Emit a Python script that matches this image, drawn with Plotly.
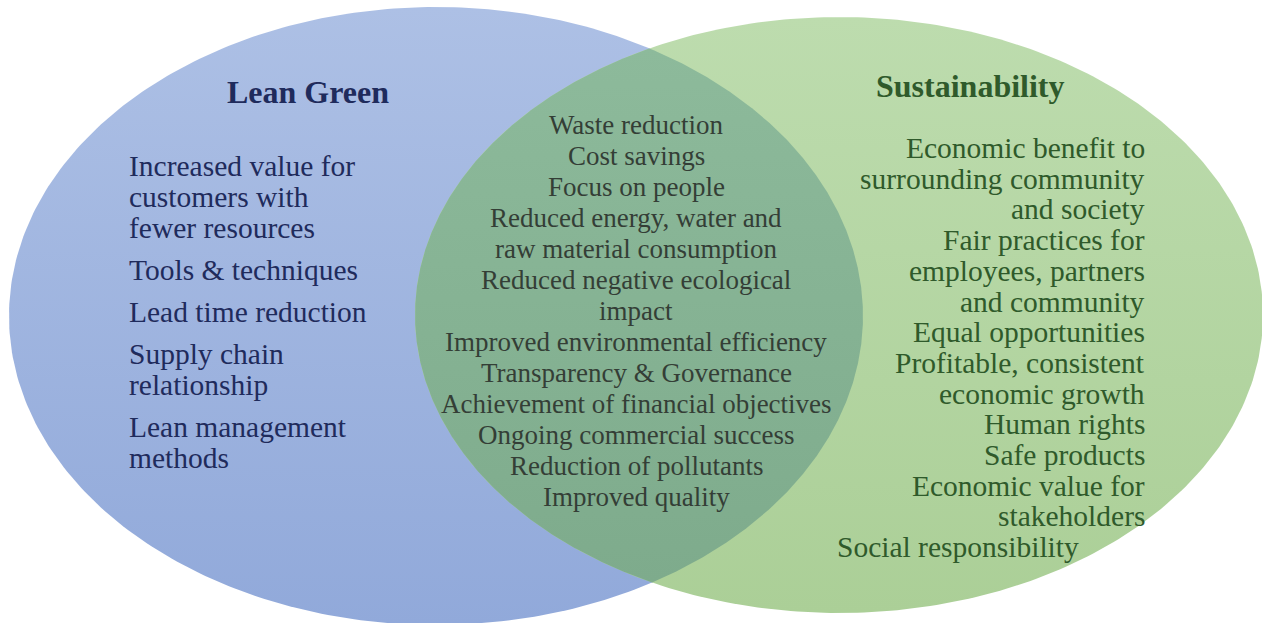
import numpy as np
import plotly.graph_objects as go

# ---------------- data ----------------
left_title = "Lean Green"
left_items = [
    ["Increased value for", "customers with", "fewer resources"],
    ["Tools & techniques"],
    ["Lead time reduction"],
    ["Supply chain", "relationship"],
    ["Lean management", "methods"],
]
center_lines = [
    "Waste reduction",
    "Cost savings",
    "Focus on people",
    "Reduced energy, water and",
    "raw material consumption",
    "Reduced negative ecological",
    "impact",
    "Improved environmental efficiency",
    "Transparency & Governance",
    "Achievement of financial objectives",
    "Ongoing commercial success",
    "Reduction of pollutants",
    "Improved quality",
]
right_title = "Sustainability"
right_lines = [
    "Economic benefit to",
    "surrounding community",
    "and society",
    "Fair practices for",
    "employees, partners",
    "and community",
    "Equal opportunities",
    "Profitable, consistent",
    "economic growth",
    "Human rights",
    "Safe products",
    "Economic value for",
    "stakeholders",
]
right_last = "Social responsibility"

# ---------------- geometry (pixel space) ----------------
W, H = 1262, 623
L_CX, L_CY, L_A, L_B = 436, 316, 427, 309
R_CX, R_CY, R_A, R_B = 839, 315, 424, 298

FONT = "Liberation Serif, Times New Roman, serif"
BLUE_TXT = "#1f2b5c"
MID_TXT = "#343e36"
GREEN_TXT = "#2f5a2b"


def ellipse(cx, cy, a, b, t0=0, t1=2 * np.pi, n=400):
    t = np.linspace(t0, t1, n)
    return cx + a * np.cos(t), cy + b * np.sin(t)


def inside(x, y, cx, cy, a, b):
    return ((x - cx) / a) ** 2 + ((y - cy) / b) ** 2 <= 1.0


fig = go.Figure()

bx, by = ellipse(L_CX, L_CY, L_A, L_B)
fig.add_trace(go.Scatter(
    x=bx, y=by, mode="lines", fill="toself", line=dict(width=0, color="rgba(0,0,0,0)"),
    fillgradient=dict(type="vertical", colorscale=[[0, "#91a9da"], [1, "#adc0e5"]]),
    hoverinfo="skip", showlegend=False))

gx, gy = ellipse(R_CX, R_CY, R_A, R_B)
fig.add_trace(go.Scatter(
    x=gx, y=gy, mode="lines", fill="toself", line=dict(width=0, color="rgba(0,0,0,0)"),
    fillgradient=dict(type="vertical", colorscale=[[0, "#abcf97"], [1, "#bddcae"]]),
    hoverinfo="skip", showlegend=False))

# lens (overlap)
ax1, ay1 = ellipse(R_CX, R_CY, R_A, R_B, np.pi / 2, 3 * np.pi / 2, 800)
m1 = inside(ax1, ay1, L_CX, L_CY, L_A, L_B)
ax2, ay2 = ellipse(L_CX, L_CY, L_A, L_B, -np.pi / 2, np.pi / 2, 800)
m2 = inside(ax2, ay2, R_CX, R_CY, R_A, R_B)
ox = np.concatenate([ax1[m1], ax2[m2]])
oy = np.concatenate([ay1[m1], ay2[m2]])
fig.add_trace(go.Scatter(
    x=ox, y=oy, mode="lines", fill="toself", line=dict(width=0, color="rgba(0,0,0,0)"),
    fillgradient=dict(type="vertical", colorscale=[[0, "#7eab8c"], [1, "#8dba9b"]]),
    hoverinfo="skip", showlegend=False))

ann = []


def add_text(x, y, text, size, color, anchor="left", bold=False):
    ann.append(dict(
        x=x, y=y, xref="x", yref="y", text=f"<b>{text}</b>" if bold else text,
        showarrow=False, xanchor=anchor, yanchor="middle",
        font=dict(family=FONT, size=size, color=color)))


# left side
add_text(308, 92, left_title, 32, BLUE_TXT, "center", bold=True)
y = 166
for item in left_items:
    for j, line in enumerate(item):
        add_text(127, y, line, 29.5, BLUE_TXT, "left")
        y += 31
    y += 11

# center
for i, line in enumerate(center_lines):
    add_text(636, 125 + i * 31, line, 27, MID_TXT, "center")

# right
add_text(970, 86, right_title, 32, GREEN_TXT, "center", bold=True)
for i, line in enumerate(right_lines):
    add_text(1147, 148 + i * 30.7, line, 29.5, GREEN_TXT, "right")
add_text(835, 547, right_last, 29.5, GREEN_TXT, "left")

fig.update_layout(
    width=W, height=H,
    margin=dict(l=0, r=0, t=0, b=0),
    paper_bgcolor="white", plot_bgcolor="white",
    xaxis=dict(range=[0, W], visible=False, fixedrange=True),
    yaxis=dict(range=[H, 0], visible=False, fixedrange=True),
    annotations=ann,
    showlegend=False,
)

fig.write_html(
    "out.html",
    config={"displayModeBar": False},
    post_script="document.body.style.margin='0px';document.body.style.overflow='hidden';",
)
